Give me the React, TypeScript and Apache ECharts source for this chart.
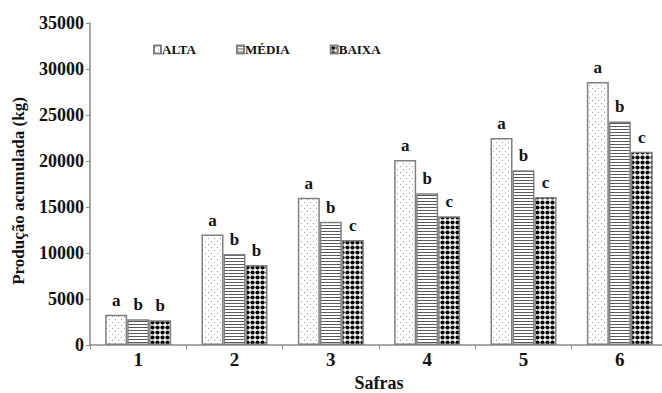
import React, { useEffect, useRef } from "react";
import * as echarts from "echarts";

// Harvest categories and accumulated production (kg) per density level
const safras = ["1", "2", "3", "4", "5", "6"];
const alta = [3300, 12000, 16000, 20100, 22500, 28600];
const media = [2800, 9900, 13400, 16500, 19000, 24300];
const baixa = [2700, 8700, 11400, 14000, 16100, 21000];

// Significance letters shown above each bar
const altaLetters = ["a", "a", "a", "a", "a", "a"];
const mediaLetters = ["b", "b", "b", "b", "b", "b"];
const baixaLetters = ["b", "b", "c", "c", "c", "c"];

const yMin = 0;
const yMax = 35000;
const yStep = 5000;

const FONT = "Liberation Serif";

type Tile = { canvas: HTMLCanvasElement; w: number; h: number };

function makeTile(kind: "dots" | "lines" | "diamonds"): Tile {
  const c = document.createElement("canvas");
  let w = 6;
  let h = 6;
  if (kind === "lines") {
    w = 4;
    h = 3;
  } else if (kind === "diamonds") {
    w = 5;
    h = 5;
  }
  c.width = w;
  c.height = h;
  const ctx = c.getContext("2d")!;
  ctx.fillStyle = "#ffffff";
  ctx.fillRect(0, 0, w, h);
  if (kind === "dots") {
    ctx.fillStyle = "#9a9a9a";
    ctx.fillRect(1, 1, 1, 1);
    ctx.fillRect(4, 4, 1, 1);
  } else if (kind === "lines") {
    ctx.fillStyle = "#5a5a5a";
    ctx.fillRect(0, 0, w, 1);
  } else {
    ctx.fillStyle = "#000000";
    ctx.beginPath();
    ctx.arc(2.5, 2.5, 2.1, 0, Math.PI * 2);
    ctx.fill();
  }
  return { canvas: c, w, h };
}

function pattern(t: Tile): any {
  return {
    image: t.canvas,
    repeat: "repeat",
    imageWidth: t.w,
    imageHeight: t.h,
  };
}

export default function App() {
  const ref = useRef<HTMLDivElement>(null);

  useEffect(() => {
    if (!ref.current) return;
    const chart = echarts.init(ref.current, undefined, { renderer: "svg" });

    const fills = [
      pattern(makeTile("dots")),
      pattern(makeTile("lines")),
      pattern(makeTile("diamonds")),
    ];
    const names = ["ALTA", "MÉDIA", "BAIXA"];
    const values = [alta, media, baixa];
    const letters = [altaLetters, mediaLetters, baixaLetters];

    const series = names.map((name, i) => ({
      name,
      type: "bar" as const,
      data: values[i],
      barWidth: 22,
      barGap: "0%",
      itemStyle: {
        color: fills[i],
        borderColor: "#808080",
        borderWidth: 1.5,
      },
      label: {
        show: true,
        position: "top" as const,
        distance: 6,
        formatter: (p: any) => letters[i][p.dataIndex],
        fontFamily: FONT,
        fontWeight: "bold" as const,
        fontSize: 17,
        color: "#111111",
      },
    }));

    chart.setOption({
      animation: false,
      backgroundColor: "#ffffff",
      legend: {
        left: 148,
        top: 38,
        itemGap: 40,
        itemWidth: 7,
        itemHeight: 8,
        icon: "rect",
        data: names,
        textStyle: {
          fontFamily: FONT,
          fontWeight: "bold",
          fontSize: 13,
          color: "#111111",
          padding: [0, 0, 0, -4],
        },
      },
      grid: {
        left: 90,
        top: 23,
        width: 578,
        bottom: 48,
        containLabel: false,
        outerBoundsMode: "none",
      },
      xAxis: {
        type: "category",
        data: safras,
        name: "Safras",
        nameLocation: "middle",
        nameGap: 27,
        nameTextStyle: {
          fontFamily: FONT,
          fontWeight: "bold",
          fontSize: 18,
          color: "#111111",
        },
        axisLine: { lineStyle: { color: "#8a8a8a", width: 1.5 } },
        axisTick: { show: true, length: 4, lineStyle: { color: "#8a8a8a" } },
        axisLabel: {
          fontFamily: FONT,
          fontWeight: "bold",
          fontSize: 19,
          color: "#111111",
          margin: 5,
        },
      },
      yAxis: {
        type: "value",
        min: yMin,
        max: yMax,
        interval: yStep,
        splitLine: { show: false },
        axisLine: { show: true, lineStyle: { color: "#8a8a8a", width: 1.5 } },
        axisTick: { show: true, length: 4, lineStyle: { color: "#8a8a8a" } },
        axisLabel: {
          formatter: (v: number) => String(v),
          fontFamily: FONT,
          fontWeight: "bold",
          fontSize: 18,
          color: "#111111",
          margin: 6,
        },
      },
      graphic: [
        {
          type: "text",
          x: 18,
          y: 191,
          rotation: Math.PI / 2,
          style: {
            text: "Produção acumulada (kg)",
            fontFamily: FONT,
            fontWeight: "bold",
            fontSize: 17,
            fill: "#111111",
            align: "center",
            verticalAlign: "middle",
          },
        },
      ],
      series,
    });

    return () => chart.dispose();
  }, []);

  return (
    <div
      ref={ref}
      style={{ position: "fixed", left: 0, top: 0, width: 662, height: 393, background: "#fff" }}
    />
  );
}
